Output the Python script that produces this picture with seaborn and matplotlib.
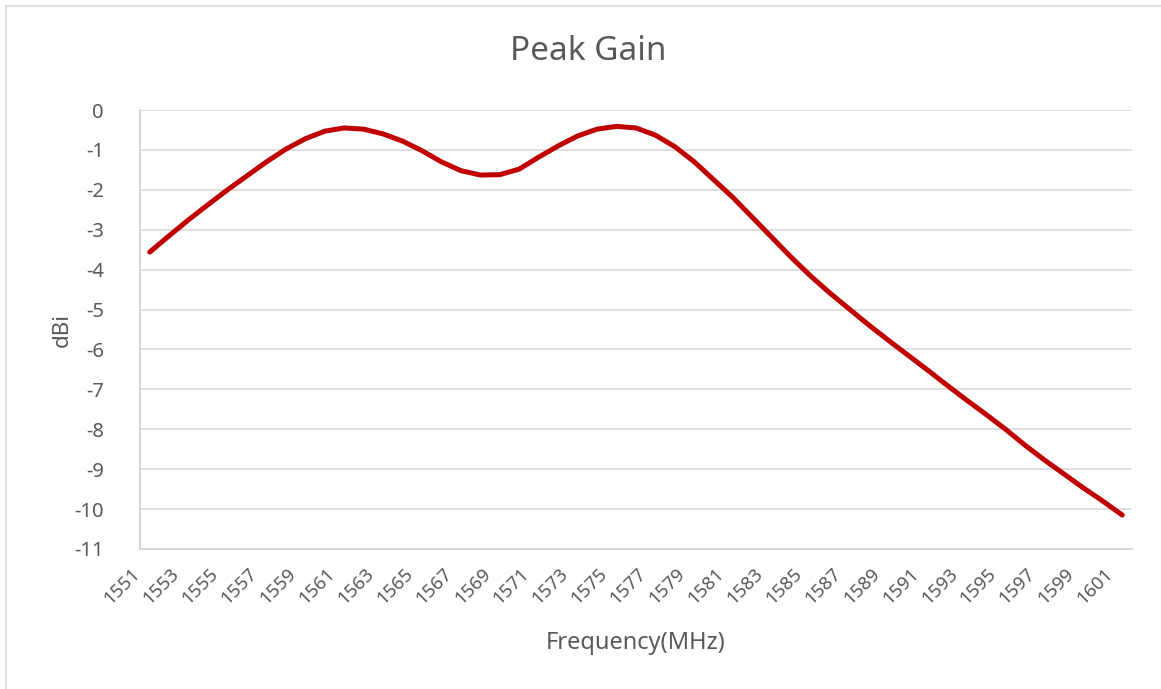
import matplotlib
matplotlib.use("Agg")
import matplotlib.pyplot as plt
import matplotlib.transforms as mtransforms
import seaborn as sns
import pandas as pd
from matplotlib.patches import Rectangle

freq = list(range(1551, 1602))
gain = [-3.56, -3.15, -2.75, -2.37, -2.00, -1.65, -1.30, -0.98, -0.72, -0.53,
        -0.45, -0.48, -0.60, -0.78, -1.02, -1.30, -1.52, -1.63, -1.62, -1.48,
        -1.18, -0.90, -0.65, -0.48, -0.41, -0.45, -0.63, -0.92, -1.30, -1.75,
        -2.20, -2.70, -3.20, -3.70, -4.17, -4.60, -5.00, -5.40, -5.78, -6.15,
        -6.52, -6.90, -7.27, -7.63, -8.00, -8.40, -8.77, -9.12, -9.47, -9.80,
        -10.15]
tick_labels = [str(f) for f in range(1551, 1602, 2)]
y_ticks = list(range(0, -12, -1))

df = pd.DataFrame({"Frequency": freq, "Gain": gain})

sns.set_theme(style="white")
plt.rcParams['font.family'] = ['Noto Sans', 'DejaVu Sans']

W, H = 1161, 689
fig = plt.figure(figsize=(W / 100, H / 100), dpi=100)
ax = fig.add_axes([140 / W, 1 - 549 / H, (1132 - 140) / W, (549 - 110) / H])

sns.lineplot(data=df, x="Frequency", y="Gain", ax=ax, color="#C00000",
             linewidth=3.6, solid_capstyle="round", solid_joinstyle="round")

ax.set_xlim(1550.5, 1601.5)
ax.set_ylim(-11, 0)
ax.set_yticks(y_ticks)
ax.set_yticklabels([str(v) for v in y_ticks])
ax.set_xticks(list(range(1551, 1602, 2)))
ax.set_xticklabels(tick_labels, rotation=45, ha="right", va="center",
                   rotation_mode="anchor")

text_color = "#595959"
ax.tick_params(axis="y", colors=text_color, labelsize=14.5, length=0, pad=26)
ax.tick_params(axis="x", colors=text_color, labelsize=13.5, length=0, pad=16)
offset = mtransforms.ScaledTranslation(-12 / 100, 0, fig.dpi_scale_trans)
for lbl in ax.get_xticklabels():
    lbl.set_transform(lbl.get_transform() + offset)

ax.grid(axis="y", color="#d9d9d9", linewidth=1.2)
ax.grid(axis="x", visible=False)
for s in ["top", "right"]:
    ax.spines[s].set_visible(False)
for s in ["left", "bottom"]:
    ax.spines[s].set_color("#d0d0d0")
    ax.spines[s].set_linewidth(1.2)

ax.set_xlabel("Frequency(MHz)", color=text_color, fontsize=17, va="center")
ax.xaxis.set_label_coords(0.5, -(643 - 549) / 439)
ax.set_ylabel("dBi", color=text_color, fontsize=16, va="center")
ax.yaxis.set_label_coords((62 - 140) / 992, (549 - 330) / 439)

fig.text(588 / W, 1 - 52 / H, "Peak Gain", ha="center", va="center",
         color=text_color, fontsize=24)

fig.add_artist(Rectangle((6 / W, -0.05), 1.2, 1 - 6 / H + 0.05,
                         transform=fig.transFigure, fill=False,
                         edgecolor="#d9d9d9", linewidth=1.2))

fig.savefig("out.png", dpi=100)
